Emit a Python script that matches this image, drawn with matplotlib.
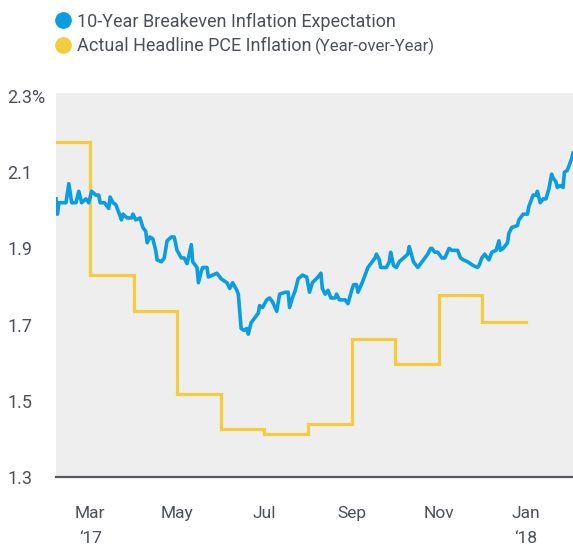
import matplotlib
matplotlib.use('Agg')
import matplotlib.pyplot as plt
from matplotlib.lines import Line2D
import pandas as pd

plt.rcParams['font.family'] = ['Roboto', 'DejaVu Sans']

# 10-year breakeven inflation expectation (%)
be_dates = [
    '2017-02-05', '2017-02-06', '2017-02-07', '2017-02-09', '2017-02-12', '2017-02-14',
    '2017-02-16', '2017-02-19', '2017-02-21', '2017-02-23', '2017-02-26', '2017-02-28',
    '2017-03-02', '2017-03-05', '2017-03-07', '2017-03-08', '2017-03-11', '2017-03-14',
    '2017-03-15', '2017-03-17', '2017-03-19', '2017-03-21', '2017-03-23', '2017-03-24',
    '2017-03-27', '2017-03-30', '2017-03-31', '2017-04-02', '2017-04-05', '2017-04-07',
    '2017-04-09', '2017-04-10', '2017-04-12', '2017-04-14', '2017-04-16', '2017-04-17',
    '2017-04-20', '2017-04-22', '2017-04-24', '2017-04-27', '2017-04-29', '2017-05-01',
    '2017-05-04', '2017-05-06', '2017-05-08', '2017-05-09', '2017-05-11', '2017-05-12',
    '2017-05-15', '2017-05-16', '2017-05-18', '2017-05-19', '2017-05-22', '2017-05-23',
    '2017-05-26', '2017-05-29', '2017-06-01', '2017-06-03', '2017-06-05', '2017-06-07',
    '2017-06-09', '2017-06-12', '2017-06-13', '2017-06-15', '2017-06-17', '2017-06-19',
    '2017-06-20', '2017-06-22', '2017-06-24', '2017-06-27', '2017-06-28', '2017-06-30',
    '2017-07-03', '2017-07-05', '2017-07-07', '2017-07-10', '2017-07-12', '2017-07-16',
    '2017-07-18', '2017-07-19', '2017-07-21', '2017-07-23', '2017-07-25', '2017-07-28',
    '2017-07-31', '2017-08-02', '2017-08-04', '2017-08-08', '2017-08-10', '2017-08-11',
    '2017-08-13', '2017-08-15', '2017-08-17', '2017-08-20', '2017-08-21', '2017-08-23',
    '2017-08-27', '2017-08-29', '2017-09-01', '2017-09-02', '2017-09-04', '2017-09-05',
    '2017-09-08', '2017-09-10', '2017-09-12', '2017-09-15', '2017-09-17', '2017-09-18',
    '2017-09-20', '2017-09-21', '2017-09-23', '2017-09-25', '2017-09-27', '2017-09-28',
    '2017-09-30', '2017-10-02', '2017-10-04', '2017-10-07', '2017-10-10', '2017-10-11',
    '2017-10-14', '2017-10-16', '2017-10-17', '2017-10-20', '2017-10-22', '2017-10-24',
    '2017-10-26', '2017-10-27', '2017-10-29', '2017-10-31', '2017-11-03', '2017-11-05',
    '2017-11-08', '2017-11-10', '2017-11-14', '2017-11-16', '2017-11-18', '2017-11-21',
    '2017-11-25', '2017-11-28', '2017-11-29', '2017-12-01', '2017-12-03', '2017-12-06',
    '2017-12-08', '2017-12-11', '2017-12-13', '2017-12-14', '2017-12-16', '2017-12-19',
    '2017-12-20', '2017-12-22', '2017-12-26', '2017-12-27', '2017-12-30', '2018-01-02',
    '2018-01-03', '2018-01-06', '2018-01-08', '2018-01-09', '2018-01-11', '2018-01-13',
    '2018-01-15', '2018-01-17', '2018-01-19', '2018-01-20', '2018-01-22', '2018-01-23',
    '2018-01-25', '2018-01-27', '2018-01-28', '2018-01-30', '2018-01-31', '2018-02-02',
    '2018-02-03',
]
be_values = [
    2.03, 1.99, 2.02, 2.02, 2.02, 2.07,
    2.02, 2.02, 2.05, 2.02, 2.03, 2.02,
    2.05, 2.04, 2.04, 2.02, 2.02, 2.005,
    2.035, 2.02, 2.015, 1.995, 1.975, 1.99,
    1.98, 1.98, 1.99, 1.975, 1.98, 1.955,
    1.945, 1.915, 1.93, 1.925, 1.895, 1.87,
    1.865, 1.875, 1.92, 1.93, 1.93, 1.895,
    1.875, 1.875, 1.86, 1.875, 1.91, 1.865,
    1.85, 1.81, 1.84, 1.85, 1.85, 1.825,
    1.83, 1.835, 1.82, 1.815, 1.81, 1.795,
    1.81, 1.79, 1.78, 1.69, 1.685, 1.69,
    1.675, 1.705, 1.715, 1.73, 1.75, 1.745,
    1.765, 1.77, 1.76, 1.735, 1.78, 1.785,
    1.785, 1.745, 1.77, 1.79, 1.82, 1.83,
    1.825, 1.785, 1.81, 1.825, 1.835, 1.795,
    1.78, 1.79, 1.77, 1.77, 1.78, 1.765,
    1.765, 1.755, 1.795, 1.805, 1.805, 1.785,
    1.81, 1.83, 1.85, 1.865, 1.875, 1.885,
    1.87, 1.85, 1.85, 1.85, 1.865, 1.89,
    1.855, 1.85, 1.865, 1.875, 1.885, 1.905,
    1.865, 1.855, 1.85, 1.865, 1.875, 1.885,
    1.90, 1.90, 1.89, 1.89, 1.875, 1.875,
    1.90, 1.895, 1.895, 1.875, 1.87, 1.865,
    1.855, 1.85, 1.855, 1.875, 1.885, 1.87,
    1.89, 1.895, 1.92, 1.895, 1.90, 1.915,
    1.94, 1.955, 1.96, 1.975, 1.99, 1.99,
    2.01, 2.04, 2.04, 2.05, 2.02, 2.03,
    2.03, 2.055, 2.095, 2.085, 2.075, 2.06,
    2.065, 2.06, 2.10, 2.105, 2.115, 2.135,
    2.15,
]

# headline PCE inflation, year over year (%), one value per month
pce_months = ['2017-02-01', '2017-03-01', '2017-04-01', '2017-05-01', '2017-06-01', '2017-07-01',
              '2017-08-01', '2017-09-01', '2017-10-01', '2017-11-01', '2017-12-01', '2018-01-01']
pce_values = [2.18, 1.83, 1.735, 1.518, 1.425, 1.413, 1.438, 1.662, 1.597, 1.778, 1.707, 1.707]

y_ticks = [1.3, 1.5, 1.7, 1.9, 2.1, 2.3]
y_labels = ['1.3', '1.5', '1.7', '1.9', '2.1', '2.3%']
x_ticks = ['2017-03-01', '2017-05-01', '2017-07-01', '2017-09-01', '2017-11-01', '2018-01-01']
x_labels = ['Mar\n\u201817', 'May', 'Jul', 'Sep', 'Nov', 'Jan\n\u201818']

blue = '#0a9de0'
yellow = '#f5cc3f'
text_col = '#4b5058'

fig = plt.figure(figsize=(5.73, 5.5), dpi=100)
ax = fig.add_axes([56 / 573, 1 - 477 / 550, 517 / 573, 384 / 550])
ax.set_facecolor('#eeeeee')

ax.plot(pd.to_datetime(pce_months), pce_values, drawstyle='steps-post',
        color=yellow, lw=2.3, solid_joinstyle='miter')
ax.plot(pd.to_datetime(be_dates), be_values, color=blue, lw=2.6, solid_joinstyle='round')

ax.set_xlim(pd.Timestamp('2017-02-05'), pd.Timestamp('2018-02-03'))
ax.set_ylim(1.3, 2.308)

for s in ['top', 'right', 'left']:
    ax.spines[s].set_visible(False)
ax.spines['bottom'].set_color('#55595f')
ax.spines['bottom'].set_linewidth(1.6)

ax.set_yticks(y_ticks)
ax.set_yticklabels(y_labels)
ax.tick_params(axis='y', length=0, pad=35, labelsize=13, labelcolor=text_col)
for t in ax.get_yticklabels():
    t.set_ha('left')

ax.set_xticks(pd.to_datetime(x_ticks))
ax.set_xticklabels(x_labels, linespacing=1.85)
ax.tick_params(axis='x', length=0, pad=21, labelsize=12.5, labelcolor=text_col)

handles = [Line2D([], [], ls='none', marker='o', ms=11, color=blue),
           Line2D([], [], ls='none', marker='o', ms=11, color=yellow)]
leg = fig.legend(handles, ['10-Year Breakeven Inflation Expectation', 'Actual Headline PCE Inflation'],
                 loc='upper left', bbox_to_anchor=(0.072, 1.0), frameon=False, fontsize=13,
                 handletextpad=0.3, labelspacing=0.35, borderaxespad=0.3, handlelength=1.0)
for t in leg.get_texts():
    t.set_color(text_col)

fig.canvas.draw()
bb = leg.get_texts()[1].get_window_extent().transformed(fig.transFigure.inverted())
fig.text(bb.x1 + 0.005, (bb.y0 + bb.y1) / 2, '(Year-over-Year)', fontsize=12, color=text_col,
         va='center', ha='left')

fig.savefig('out.png', dpi=100)
